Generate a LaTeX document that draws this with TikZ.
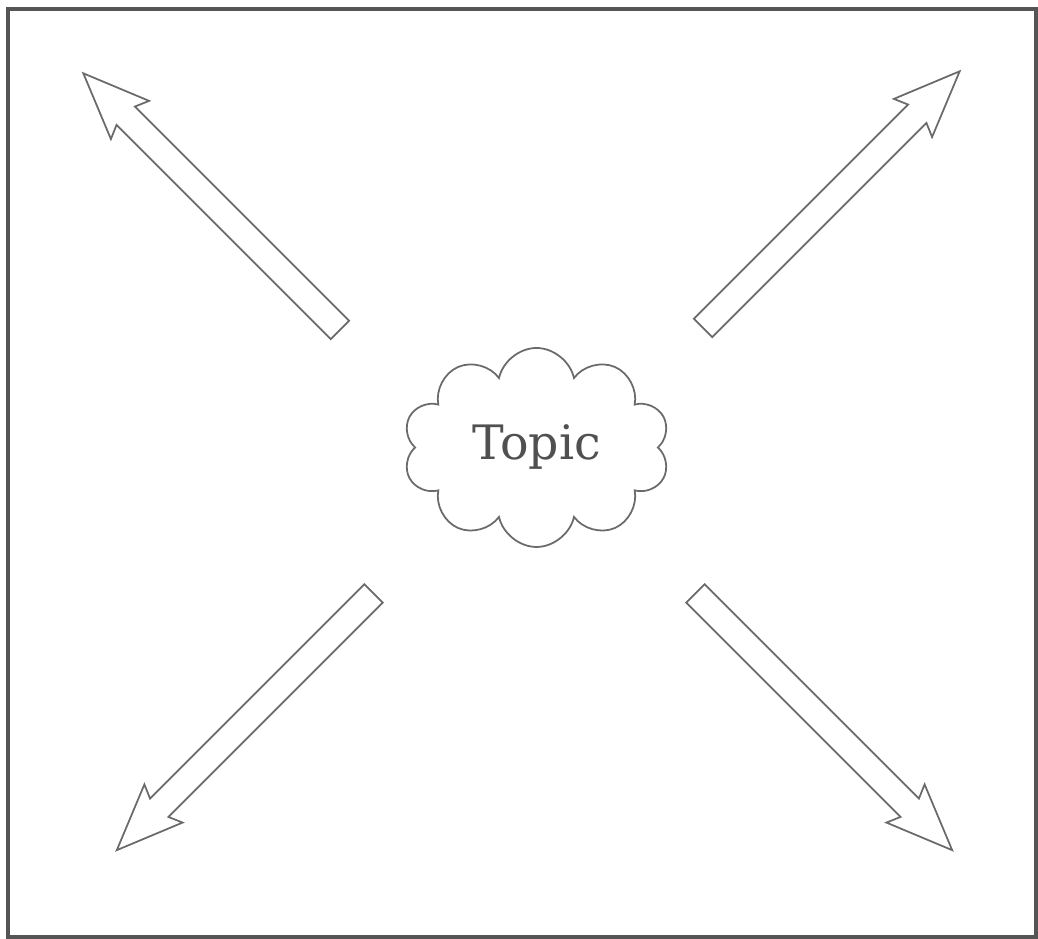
\documentclass[tikz,border=0pt]{standalone}
\usepackage{fontspec}
\setmainfont{DejaVu Serif}
\usetikzlibrary{shapes.symbols}
\definecolor{inkgray}{HTML}{6A6A6A}
\definecolor{framegray}{HTML}{555555}
\definecolor{textgray}{HTML}{505050}
\tikzset{
  fatarrow/.pic={
    \draw[arrowline] (0,-0.13) -- (3.03,-0.13) -- (2.97,-0.27) -- (3.63,0)
      -- (2.97,0.27) -- (3.03,0.13) -- (0,0.13) -- cycle;
  },
}
\begin{document}
\begin{tikzpicture}[arrowline/.style={draw=inkgray, line width=0.5pt, line join=miter},
    topiccloud/.style={cloud, cloud puffs=10, cloud puff arc=155, aspect=1.34, draw=inkgray,
      line width=0.5pt, minimum width=2.67cm, minimum height=1.99cm, inner sep=0pt,
      text=textgray, font=\fontsize{13.5}{15}\selectfont}]
  \useasboundingbox (0,0) rectangle (10.38,9.39);
  \draw[line width=0.9pt, draw=framegray] (0.08,0.02) rectangle (10.36,9.30);
  \node[topiccloud] (topic) at (5.365,4.915) {Topic};
  % four arms
  \pic (armNW) [rotate=135] at (3.400,6.090) {fatarrow};
  \pic (armNE) [rotate=45] at (7.030,6.110) {fatarrow};
  \pic (armSW) [rotate=225] at (3.735,3.455) {fatarrow};
  \pic (armSE) [rotate=-45] at (6.955,3.455) {fatarrow};
\end{tikzpicture}
\end{document}
